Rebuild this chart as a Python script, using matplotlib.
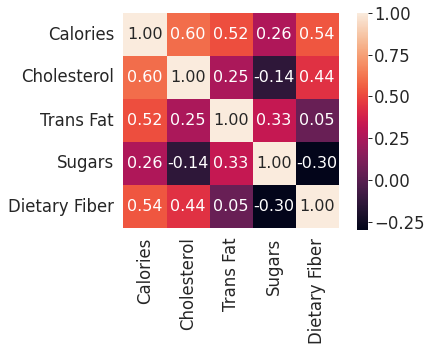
import numpy as np
import pandas as pd
import matplotlib
matplotlib.use("Agg")
import matplotlib.pyplot as plt
import seaborn as sns

# Spalten / Beschriftungen
spalten = ["Calories", "Cholesterol", "Trans Fat", "Sugars", "Dietary Fiber"]

# Korrelationswerte zeilenweise
calories = [1.00, 0.60, 0.52, 0.26, 0.54]
cholesterol = [0.60, 1.00, 0.25, -0.14, 0.44]
trans_fat = [0.52, 0.25, 1.00, 0.33, 0.05]
sugars = [0.26, -0.14, 0.33, 1.00, -0.30]
dietary_fiber = [0.54, 0.44, 0.05, -0.30, 1.00]

korr = pd.DataFrame([calories, cholesterol, trans_fat, sugars, dietary_fiber],
                    index=spalten, columns=spalten)

sns.set(font_scale=1.5)

fig = plt.figure(figsize=(435 / 72, 353 / 72), dpi=72)
ax = fig.add_axes([123 / 435, 1 - 228 / 353, 216 / 435, 215 / 353])
cax = fig.add_axes([357 / 435, 1 - 230 / 353, 11 / 435, 217 / 353])

sns.heatmap(korr, annot=True, fmt=".2f", square=True, ax=ax, cbar_ax=cax,
            annot_kws={"size": 16})

# kleine Striche an der Farbskala
cax.tick_params(axis="y", right=True, length=4, width=1, color="#262626", pad=2)

fig.savefig("out.png", dpi=72)
